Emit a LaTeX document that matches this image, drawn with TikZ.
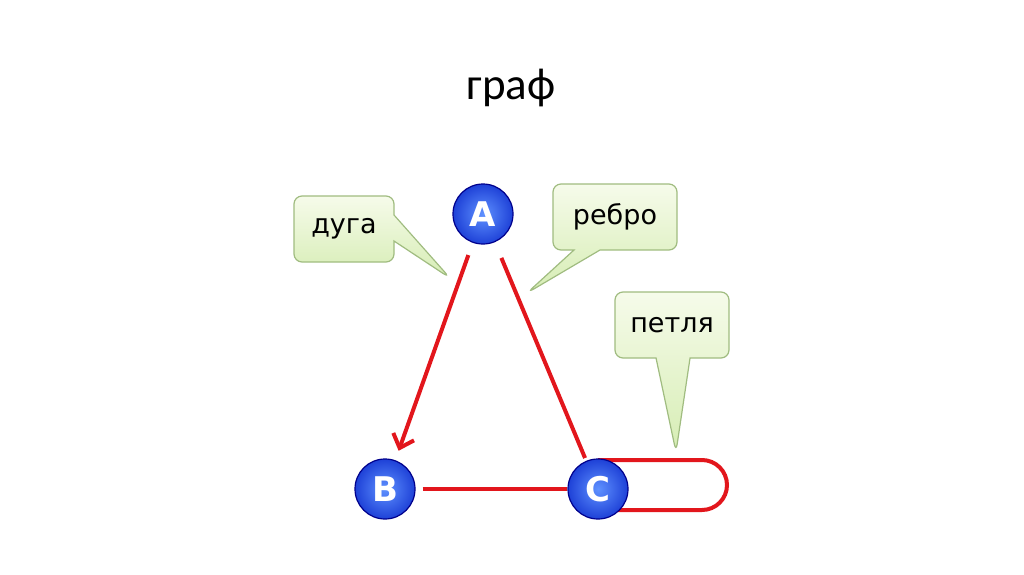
\documentclass[tikz,border=0pt]{standalone}
\usepackage{fontspec}
\setmainfont{DejaVu Sans}
\newfontfamily\titlefont{Carlito}
\usepackage{xcolor}
\usetikzlibrary{arrows.meta,shapes.callouts,shadings}
\definecolor{edgered}{RGB}{226,22,28}
\definecolor{notetop}{RGB}{246,251,234}
\definecolor{notebot}{RGB}{214,237,180}
\definecolor{noteline}{RGB}{160,188,128}
\definecolor{ballin}{RGB}{95,145,255}
\definecolor{ballout}{RGB}{30,65,215}
\pgfdeclarelayer{bg}
\pgfsetlayers{bg,main}

\begin{document}
\begin{tikzpicture}[
x=0.5pt, y=-0.5pt,
vertex/.style={circle, draw=blue!55!black, line width=0.6pt, inner color=ballin, outer color=ballout, minimum size=30pt, inner sep=0pt, text=white, font=\bfseries\fontsize{17}{17}\selectfont},
note/.style={rectangle callout, draw=noteline, line width=0.6pt, rounded corners=4pt, top color=notetop, bottom color=notebot, minimum height=33pt, callout pointer width=13pt, align=center, font=\fontsize{13.5}{16}\selectfont},
edge/.style={draw=edgered, line width=2pt},
arr/.style={edge, -{Straight Barb[length=6pt,width=11pt,line width=2pt]}}
]
\useasboundingbox (0,0) rectangle (1024,574);

\node[font=\titlefont\fontsize{22.5}{26}\selectfont] (title) at (511,88) {граф};

\node[vertex] (A) at (483,214) {A};
\node[vertex] (B) at (385,489) {B};
\node[vertex] (C) at (598,489) {C};

\draw[arr, shorten <=6.5pt, shorten >=5pt] (A) -- (B);
\draw[edge, shorten <=8.5pt, shorten >=1.5pt] (A) -- (C);
\draw[edge, shorten <=3.5pt] (B) -- (C);
% loop at C
\begin{pgfonlayer}{bg}
\draw[edge] (C.center) ++(0,-29) -- ++(104,0) arc[start angle=90, end angle=-90, radius=12.5pt] -- ++(-104,0);
\end{pgfonlayer}

\node[note, minimum width=50pt, callout absolute pointer={(450,278)}] (arcnote) at (344,229) {дуга};
\node[note, minimum width=62pt, callout absolute pointer={(527,293)}] (edgenote) at (615,217) {ребро};
\node[note, minimum width=57pt, callout pointer width=17pt, callout absolute pointer={(676,452)}] (loopnote) at (672,325) {петля};
\end{tikzpicture}
\end{document}
